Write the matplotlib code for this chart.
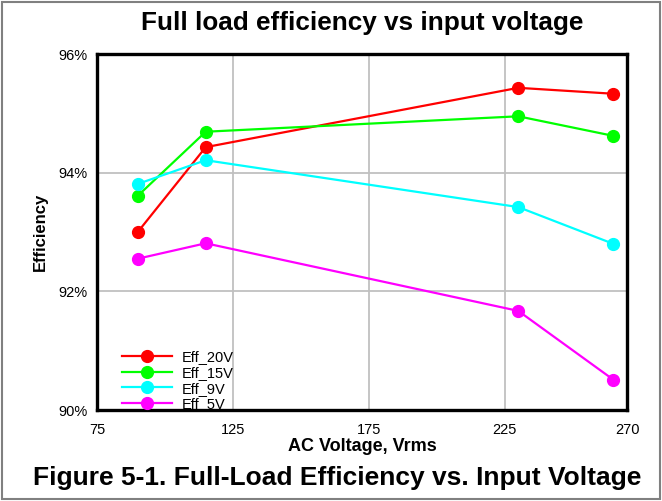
import matplotlib.pyplot as plt
from matplotlib.patches import Rectangle
from matplotlib.ticker import FuncFormatter

plt.rcParams['font.family'] = ['Liberation Sans', 'DejaVu Sans']

# AC input voltage (Vrms) and full-load efficiency (%) per output rail
voltage = [90, 115, 230, 265]
eff_20v = [93.00, 94.43, 95.43, 95.33]
eff_15v = [93.61, 94.69, 94.95, 94.62]
eff_9v = [93.81, 94.21, 93.42, 92.80]
eff_5v = [92.55, 92.81, 91.67, 90.51]

series = [
    ("Eff_20V", eff_20v, "#ff0000"),
    ("Eff_15V", eff_15v, "#00ff00"),
    ("Eff_9V", eff_9v, "#00ffff"),
    ("Eff_5V", eff_5v, "#ff00ff"),
]

fig = plt.figure(figsize=(6.62, 5.01), dpi=100)
ax = fig.add_axes([97 / 662, 1 - 410 / 501, 530 / 662, 356 / 501])

for name, vals, color in series:
    ax.plot(voltage, vals, color=color, lw=1.6, marker='o', ms=8.5,
            label=name, zorder=3)

ax.set_xlim(75, 270)
ax.set_ylim(90, 96)
ax.set_xticks([75, 125, 175, 225, 270])
ax.set_yticks([90, 92, 94, 96])
ax.yaxis.set_major_formatter(FuncFormatter(lambda v, p: f"{v:.0f}%"))
ax.tick_params(axis='x', length=0, labelsize=10.5, pad=9)
ax.tick_params(axis='y', length=0, labelsize=10.5, pad=7)
ax.grid(True, color="#c0c0c0", lw=1.3)
ax.set_axisbelow(True)
for s in ax.spines.values():
    s.set_linewidth(2.4)
    s.set_color("black")

ax.set_xlabel("AC Voltage, Vrms", fontsize=13, fontweight='bold', labelpad=1)
ax.set_ylabel("Efficiency", fontsize=12, fontweight='bold', labelpad=7)

leg = ax.legend(loc='lower left', bbox_to_anchor=(0.037, -0.02), frameon=False,
                fontsize=10.5, handlelength=3.4, handletextpad=0.65,
                labelspacing=0.12, borderaxespad=0)

fig.text(362 / 662, 1 - 23 / 501, "Full load efficiency vs input voltage", ha='center',
         va='center', fontsize=18.8, fontweight='bold')
fig.text(337 / 662, 1 - 478 / 501, "Figure 5-1. Full-Load Efficiency vs. Input Voltage",
         ha='center', va='center', fontsize=19, fontweight='bold')

# thin gray frame round the whole figure
fig.patches.append(Rectangle((0.003, 0.003), 0.994, 0.994, transform=fig.transFigure,
                             fill=False, edgecolor="#808080", lw=1.5))

fig.savefig("out.png", dpi=100)
